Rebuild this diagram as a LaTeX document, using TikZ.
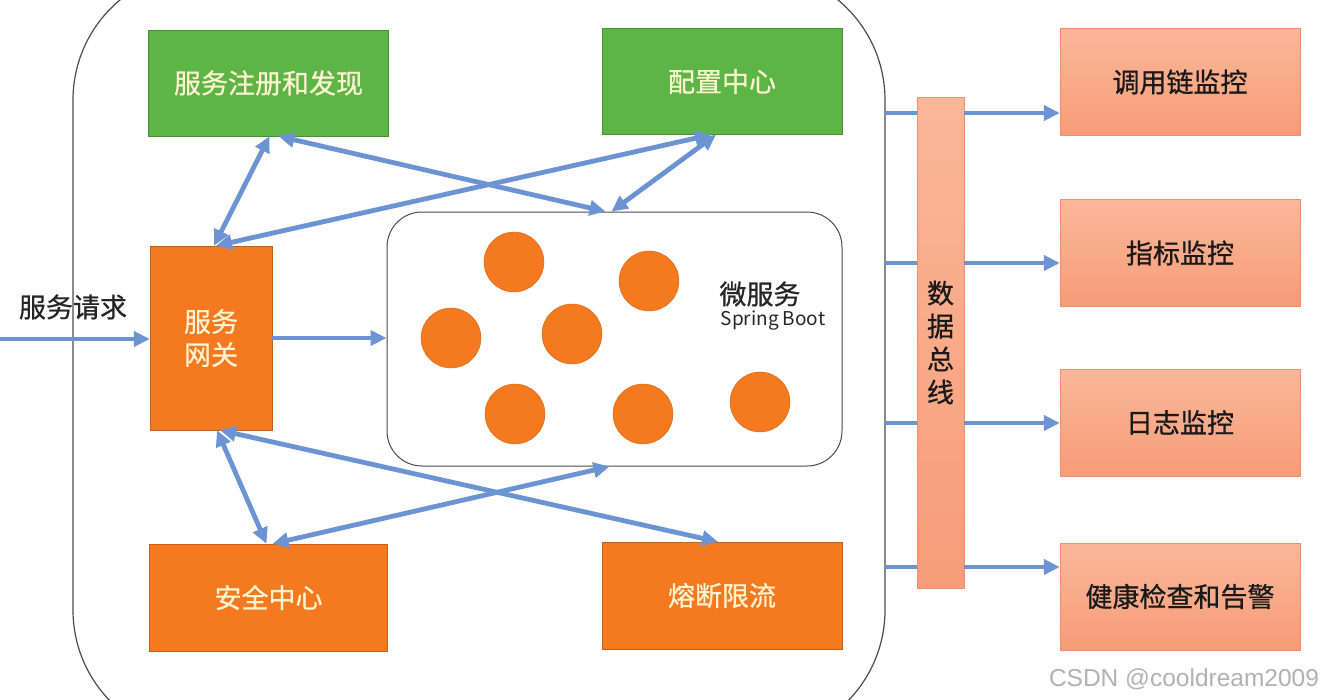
\documentclass[tikz,border=0pt]{standalone}
\usepackage{fontspec}
\setmainfont{Noto Sans CJK SC}
\newfontfamily\boxfont[FakeBold=0.7]{Noto Sans CJK SC}
\newfontfamily\markfont{Liberation Sans}
\usetikzlibrary{arrows.meta}
\definecolor{regreen}{HTML}{5DB546}
\definecolor{reorange}{HTML}{F57A1F}
\definecolor{salmontop}{HTML}{F9B899}
\definecolor{salmonbot}{HTML}{F79C78}
\definecolor{linkblue}{HTML}{6C94D3}
\definecolor{cream}{HTML}{FFF4D2}
\newcommand{\bigtext}{\boxfont\fontsize{27}{33}\selectfont}
\begin{document}
\begin{tikzpicture}[x=1pt,y=-1pt,
  >={Triangle[length=16pt,width=15pt]},
  greenbox/.style={draw=regreen!80!black,fill=regreen,text=cream,minimum width=240pt,minimum height=106pt,inner sep=0pt,font=\bigtext},
  orangebox/.style={draw=reorange!80!black,fill=reorange,text=cream,minimum width=238pt,minimum height=107pt,inner sep=0pt,font=\bigtext},
  monbox/.style={draw=salmonbot!90!red,top color=salmontop,bottom color=salmonbot,text=black!90,minimum width=240pt,minimum height=107pt,inner sep=0pt,font=\bigtext},
  svc/.style={circle,fill=reorange,draw=reorange!85!black,minimum size=60pt,inner sep=0pt},
  link/.style={draw=linkblue,line width=4.8pt,<->},
  flow/.style={draw=linkblue,line width=4.8pt,->},
  tie/.style={draw=linkblue,line width=4.8pt}]
\useasboundingbox (0,0) rectangle (1325,699);
\fill [white] (0,0) rectangle (1325,699);

% outer frame
\draw [black!70,line width=1.2pt,rounded corners=130pt] (73,-30) rectangle (885,740);

% top services
\node[greenbox] (reg) at (268.5,83) {服务注册和发现};
\node[greenbox] (cfg) at (722,81.5) {配置中心};

% gateway
\node[orangebox,minimum width=122pt,minimum height=184pt,align=center] (gw) at (211,338) {服务\\网关};

% micro services
\node[draw=black!70,line width=1pt,rounded corners=35pt,minimum width=455pt,minimum height=254pt] (ms) at (614.5,339) {};
\foreach \x/\y [count=\i] in {514/262,649/281,451/338,572/334,515/414,643/414,760/402}
  \node[svc] (s\i) at (\x,\y) {};
\node[inner sep=0pt,font=\bigtext,text=black!85] (mstitle) at (760,294) {微服务};
\node[inner sep=0pt,font=\fontsize{19}{22}\selectfont,text=black!85] (msboot) at (773,321) {Spring Boot};

% bottom services
\node[orangebox] (sec) at (268.5,597.5) {安全中心};
\node[orangebox,minimum width=240pt] (fuse) at (722,595.5) {熔断限流};

% data bus and monitors
\node[monbox,minimum width=47pt,minimum height=491pt,align=center] (bus) at (940.5,342.5) {数\\据\\总\\线};
\node[monbox] (mon1) at (1180,82) {调用链监控};
\node[monbox] (mon2) at (1180,253) {指标监控};
\node[monbox] (mon3) at (1180,422.5) {日志监控};
\node[monbox] (mon4) at (1180,596.5) {健康检查和告警};

\foreach \i/\y in {1/113,2/263,3/423,4/567} {
  \coordinate (e\i) at (885,\y);
  \draw[tie] (e\i) -- (e\i -| bus.west);
  \draw[flow] (e\i -| bus.east) -- (e\i -| mon\i.west);
}

% request in
\node[inner sep=0pt,font=\bigtext,text=black!85] (req) at (73,307) {服务请求};
\coordinate (src) at (0,339);
\draw[flow] (src) -- (src -| gw.west);
\draw[flow] (gw.east) -- (gw.east -| ms.west);

% cross links
\draw[link] ([xshift=3pt]gw.north) -- ([xshift=1pt]reg.south);
\draw[link] ([xshift=10pt]reg.south) -- ([xshift=-9pt]ms.north);
\draw[link] ([xshift=5pt]gw.north) -- ([xshift=-11pt]cfg.south);
\draw[link] ([xshift=-6pt]cfg.south) -- ([xshift=-3pt]ms.north);
\draw[link] ([xshift=6pt]gw.south) -- ([xshift=-2pt]sec.north);
\draw[link] ([xshift=9pt]gw.south) -- ([xshift=-4pt]fuse.north);
\draw[link] ([xshift=4pt]sec.north) -- ([xshift=-5pt]ms.south);

% watermark
\node[inner sep=0pt,font=\markfont\fontsize{24.5}{27}\selectfont,text=black!30] (mark) at (1184,679) {CSDN @cooldream2009};
\end{tikzpicture}
\end{document}
